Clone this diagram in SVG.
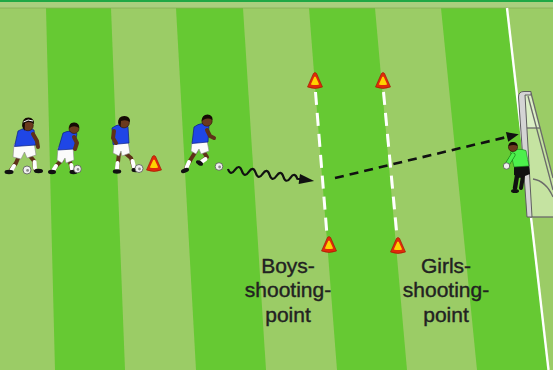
<svg xmlns="http://www.w3.org/2000/svg" width="553" height="370" viewBox="0 0 553 370">
  <style>
    .skin { fill: #6b3a1e; stroke: #2a1406; stroke-width: 0.6; }
    .limb { fill: none; stroke: #5e3219; stroke-width: 4; stroke-linecap: round; stroke-linejoin: round; }
    .sock { fill: none; stroke: #ffffff; stroke-width: 4; stroke-linecap: round; }
    .hair { fill: #150a04; }
    .shirt { fill: #1f46e6; stroke: #0a1f80; stroke-width: 0.7; }
    .shorts { fill: #fbfbfb; stroke: #8a8a8a; stroke-width: 0.6; }
    .shoe { fill: #111111; }
    .ball { fill: #f0f0f0; stroke: #555555; stroke-width: 0.8; }
    .patch { fill: #8a8a8a; }
    .label { font-family: "Liberation Sans", Arial, sans-serif; font-size: 21px; fill: #222222; stroke: #222222; stroke-width: 0.4; text-anchor: middle; }
    .post { fill: none; stroke: #6a6a6a; stroke-width: 1.3; stroke-linejoin: round; }
    .marking { stroke: #ffffff; stroke-width: 3; stroke-dasharray: 13 8; fill: none; }
  </style>
  <defs>
    <g id="cone">
      <path d="M-7.5,-1 L-1.6,-14.5 Q0,-16.5 1.6,-14.5 L7.5,-1 Q0,2 -7.5,-1 Z" fill="#e02a0a" stroke="#9a1400" stroke-width="0.6"/>
      <path d="M-4.2,-3.6 L-0.8,-11 Q0,-12 0.8,-11 L4.2,-3.6 Q0,-2.6 -4.2,-3.6 Z" fill="#ffd200"/>
    </g>
    <marker id="head" viewBox="0 0 12 10" refX="2" refY="5" markerWidth="13" markerHeight="10" markerUnits="userSpaceOnUse" orient="auto">
      <path d="M0,0 L12,5 L0,10 Z" fill="#111111"/>
    </marker>
  </defs>

  <!-- pitch -->
  <g id="field">
    <rect x="0" y="0" width="553" height="370" fill="#9bcc66"/>
    <polygon points="46,8 111,8 125,370 55,370" fill="#66c933"/>
    <polygon points="176,8 243,8 266,370 196,370" fill="#66c933"/>
    <polygon points="309,8 375,8 407,370 337,370" fill="#66c933"/>
    <polygon points="441,8 507,8 548,370 477,370" fill="#66c933"/>
    <rect x="0" y="0" width="553" height="2" fill="#1fa845"/>
    <rect x="0" y="2" width="553" height="6" fill="#a9cf7e"/>
    <line x1="0" y1="8" x2="553" y2="8" stroke="#86ad55" stroke-width="0.8"/>
    <line x1="507" y1="8" x2="548.5" y2="370" stroke="#ffffff" stroke-width="2.4"/>
  </g>

  <!-- shooting lanes -->
  <g id="markings">
    <line class="marking" x1="315.5" y1="92" x2="327" y2="235"/>
    <line class="marking" x1="383.5" y1="92" x2="397" y2="236"/>
  </g>

  <g id="cones">
    <use href="#cone" x="315" y="88"/>
    <use href="#cone" x="383" y="88"/>
    <use href="#cone" x="329" y="252"/>
    <use href="#cone" x="398" y="253"/>
    <use href="#cone" x="154" y="171"/>
  </g>

  <!-- goal -->
  <g id="goal">
    <polygon points="524,95 531,93 553,178 553,217 531,217" fill="#cfe8b0" opacity="0.8"/>
    <polygon points="525,96 531,94 540,128 527,128" fill="#e6f4d6" opacity="0.7"/>
    <path class="post" d="M531,93 L553,178"/>
    <path class="post" d="M528,96 L553,190"/>
    <path class="post" d="M526,128 L540,128"/>
    <path class="post" d="M533,179 Q546,181 553,197"/>
    <path class="post" d="M530,217 L553,217"/>
    <path d="M518.5,97 Q518.5,91.5 524,91.5 L531,91.5 L531,95 L525,95 L532,217 L527,217 Z" fill="#d4d4d4" stroke="#5e5e5e" stroke-width="1"/>
  </g>

  <!-- goalkeeper -->
  <g id="goalkeeper">
    <path d="M517,176 L515,188" fill="none" stroke="#111" stroke-width="4.5" stroke-linecap="round"/>
    <path d="M523,176 L521,188" fill="none" stroke="#111" stroke-width="4" stroke-linecap="round"/>
    <ellipse cx="515" cy="191" rx="4" ry="2" class="shoe"/>
    <path d="M514,162 L528,160 L530,174 L520,178 L514,175 Z" fill="#111111"/>
    <path d="M510.5,152 Q518,147.5 526,150.5 L529,166 L514,167 Z" fill="#4cf04c" stroke="#1a7a1a" stroke-width="0.6"/>
    <path d="M513,155 L508,163" fill="none" stroke="#1a7a1a" stroke-width="4.8" stroke-linecap="round"/>
    <path d="M513,155 L508,163" fill="none" stroke="#4cf04c" stroke-width="3.6" stroke-linecap="round"/>
    <circle cx="506.5" cy="166" r="3.2" class="ball"/>
    <circle cx="513" cy="147" r="4.6" class="skin"/>
    <path d="M508.5,146 Q509,141.5 513.5,142 Q517.5,142.5 517.5,146 Q514,144 508.5,146 Z" class="hair"/>
  </g>

  <!-- players dribbling -->
  <g id="player1">
    <path class="limb" d="M19,156 L16,163 L11,170"/>
    <path class="limb" d="M30,156 L34,161 L35,169"/>
    <path class="sock" d="M14,166 L11.5,170"/>
    <path class="sock" d="M34.6,162 L35,168"/>
    <ellipse cx="9" cy="172" rx="4.5" ry="2.2" class="shoe"/>
    <ellipse cx="38.5" cy="171" rx="4.5" ry="2.2" class="shoe"/>
    <path class="shorts" d="M14,144 L34,142 L36,155 L27,158 L24.5,152 L21,159 L13,157 Z"/>
    <path class="shirt" d="M18,131 Q26,126 34,130 L36,145 L14.5,146.5 Z"/>
    <path class="limb" d="M33,134 L37,141 L38,147"/>
    <circle cx="28" cy="125.5" r="5.3" class="skin"/>
    <path class="hair" d="M22.2,126 Q21.8,117.5 28.5,117.5 Q34.5,118 34,124 Q30,120.5 25,123 L24.5,131 Z"/>
    <path d="M23.5,122 Q28,118.5 33,121" fill="none" stroke="#ffffff" stroke-width="1"/>
    <circle cx="27" cy="170" r="4" class="ball"/>
    <circle cx="27.6" cy="170.4" r="1.4" class="patch"/>
  </g>

  <g id="player2">
    <path class="limb" d="M62,160 L57,165 L53,171"/>
    <path class="limb" d="M69,160 L71,165 L72,170"/>
    <path class="sock" d="M56,166 L53.5,170"/>
    <path class="sock" d="M71.3,165 L72,169"/>
    <ellipse cx="52" cy="172" rx="4" ry="2.2" class="shoe"/>
    <ellipse cx="73.5" cy="172" rx="4" ry="2.2" class="shoe"/>
    <path class="shorts" d="M58,147 L73,146 L74,160 L66,163 L65,158 L62,163 L57,160 Z"/>
    <path class="shirt" d="M63,133 Q71,129 77,133.5 L74,149 L58,150 Z"/>
    <path class="limb" d="M74,137 L77,143 L75,149"/>
    <circle cx="74" cy="128.5" r="5" class="skin"/>
    <path class="hair" d="M69.2,128.5 Q68.8,122 74.5,122.5 Q79.5,123 79.2,128 Q75,125 71,127 Z"/>
    <circle cx="77.5" cy="169" r="3.8" class="ball"/>
    <circle cx="78" cy="169.4" r="1.3" class="patch"/>
  </g>

  <g id="player3">
    <path class="limb" d="M119,153 L118,162 L117,169"/>
    <path class="limb" d="M125,153 L131,158 L134,168"/>
    <path class="sock" d="M117.6,163 L117,168.5"/>
    <path class="sock" d="M132.5,161 L134,167"/>
    <ellipse cx="117" cy="171.5" rx="4.2" ry="2.2" class="shoe"/>
    <ellipse cx="135.5" cy="170" rx="4" ry="2.2" class="shoe"/>
    <path class="shorts" d="M114,143 L128,141 L130,153 L122,156 L121,151 L119,156 L113,153 Z"/>
    <path class="shirt" d="M112,128 Q120,122 128,126.5 L129,143 L113,144.5 Z"/>
    <path class="limb" d="M114,131 L113,138 L116,143"/>
    <circle cx="124" cy="122.5" r="5.4" class="skin"/>
    <path class="hair" d="M118.3,123 Q117.8,116 124.5,116 Q130.5,116.5 130,122 Q126,119 121,121 L120.5,127 Z"/>
    <circle cx="139" cy="168.5" r="4" class="ball"/>
    <circle cx="139.5" cy="169" r="1.4" class="patch"/>
  </g>

  <g id="player4">
    <path class="limb" d="M196,151 L191,159 L186,168"/>
    <path class="limb" d="M203,151 L207,157 L201,162"/>
    <path class="sock" d="M189,162 L186.5,167.5"/>
    <path class="sock" d="M205.5,159 L202,161.5"/>
    <ellipse cx="185" cy="170.5" rx="4.2" ry="2.2" class="shoe" transform="rotate(-20 185 170.5)"/>
    <ellipse cx="199.5" cy="163" rx="3.8" ry="2.2" class="shoe" transform="rotate(30 199.5 163)"/>
    <path class="shorts" d="M192,142 L207,140.5 L209,151 L201,154 L199,149 L196,154 L191,151 Z"/>
    <path class="shirt" d="M194,127 Q202,121 209,125.5 L208,142 L192,143.5 Z"/>
    <path class="limb" d="M207,130 L210,136 L214,138"/>
    <circle cx="207" cy="121" r="5.2" class="skin"/>
    <path class="hair" d="M201.8,121 Q201.8,114.5 207.5,114.5 Q213,115 212.5,120 Q208.5,117.5 204,119.5 Z"/>
    <circle cx="219" cy="166.5" r="3.8" class="ball"/>
    <circle cx="219.6" cy="167" r="1.4" class="patch"/>
  </g>

  <!-- dribble and shot paths -->
  <g id="connectors">
    <g transform="translate(228,169) rotate(8)">
      <path d="M0,0 q3.5,7 7,0 t7,0 t7,0 t7,0 t7,0 t7,0 t7,0 t7,0 t7,0 t7,0 l3,0" fill="none" stroke="#111111" stroke-width="2.2"/>
      <polygon points="72,-5 87,0 72,5" fill="#111111"/>
    </g>
    <line x1="335" y1="178" x2="509" y2="136.5" stroke="#111111" stroke-width="2.6" stroke-dasharray="9 6" marker-end="url(#head)"/>
  </g>

  <g id="label-boys">
    <text class="label" x="288" y="273">Boys-</text>
    <text class="label" x="288" y="297">shooting-</text>
    <text class="label" x="288" y="322">point</text>
  </g>
  <g id="label-girls">
    <text class="label" x="446" y="273">Girls-</text>
    <text class="label" x="446" y="297">shooting-</text>
    <text class="label" x="446" y="322">point</text>
  </g>
</svg>
